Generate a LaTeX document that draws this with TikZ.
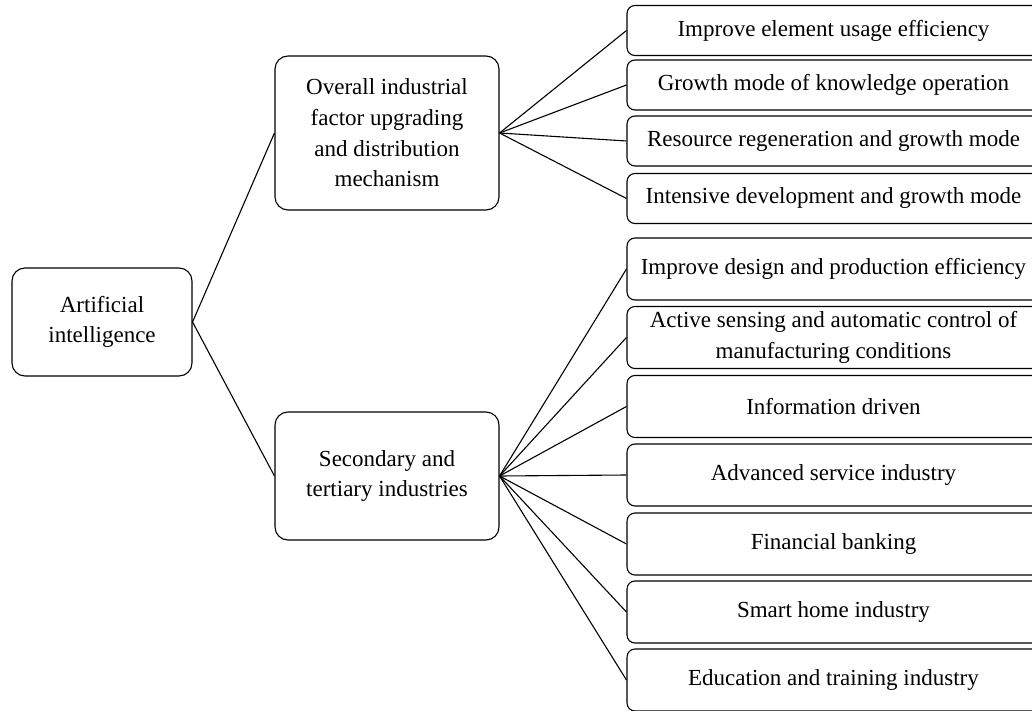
\documentclass[tikz,border=0pt]{standalone}
\usepackage{fontspec}
\setmainfont{Liberation Serif}
\usetikzlibrary{positioning}

\begin{document}
\begin{tikzpicture}[x=1pt, y=-1pt,
  box/.style={draw, line width=1.1pt, rounded corners=13pt, align=center,
              inner sep=0pt, font=\fontsize{23}{30.7}\selectfont},
  leaf/.style={box, rounded corners=8pt, minimum width=413pt},
  link/.style={line width=1.1pt}]
\useasboundingbox (0,0) rectangle (1032,711);
%
\node[box, minimum width=180pt, minimum height=108pt] (ai) at (102,322) {Artificial\\intelligence};
\node[box, minimum width=224pt, minimum height=154pt] (m1) at (387,133)
  {Overall industrial\\factor upgrading\\and distribution\\mechanism};
\node[box, minimum width=224pt, minimum height=128pt] (m2) at (387,476)
  {Secondary and\\tertiary industries};
%
\node[leaf, minimum height=50pt] (r1) at (833.5,30.5) {Improve element usage efficiency};
\node[leaf, minimum height=50pt] (r2) at (833.5,85) {Growth mode of knowledge operation};
\node[leaf, minimum height=50pt] (r3) at (833.5,141) {Resource regeneration and growth mode};
\node[leaf, minimum height=50pt] (r4) at (833.5,198.5) {Intensive development and growth mode};
%
\node[leaf, minimum height=62pt] (s1) at (833.5,269) {Improve design and production efficiency};
\node[leaf, minimum height=62pt] (s2) at (833.5,337.5)
  {Active sensing and automatic control of\\manufacturing conditions};
\node[leaf, minimum height=62pt] (s3) at (833.5,406.5) {Information driven};
\node[leaf, minimum height=62pt] (s4) at (833.5,475) {Advanced service industry};
\node[leaf, minimum height=62pt] (s5) at (833.5,544) {Financial banking};
\node[leaf, minimum height=62pt] (s6) at (833.5,612) {Smart home industry};
\node[leaf, minimum height=62pt] (s7) at (833.5,680) {Education and training industry};
%
\draw[link] (ai.east) -- (m1.west);
\draw[link] (ai.east) -- (m2.west);
%
\draw[link] (m1.east) -- (r1.west);
\draw[link] (m1.east) -- (r2.west);
\draw[link] (m1.east) -- (r3.west);
\draw[link] (m1.east) -- (r4.west);
%
\draw[link] (m2.east) -- (s1.west);
\draw[link] (m2.east) -- (s2.west);
\draw[link] (m2.east) -- (s3.west);
\draw[link] (m2.east) -- (s4.west);
\draw[link] (m2.east) -- (s5.west);
\draw[link] (m2.east) -- (s6.west);
\draw[link] (m2.east) -- (s7.west);
%
\end{tikzpicture}
\end{document}
